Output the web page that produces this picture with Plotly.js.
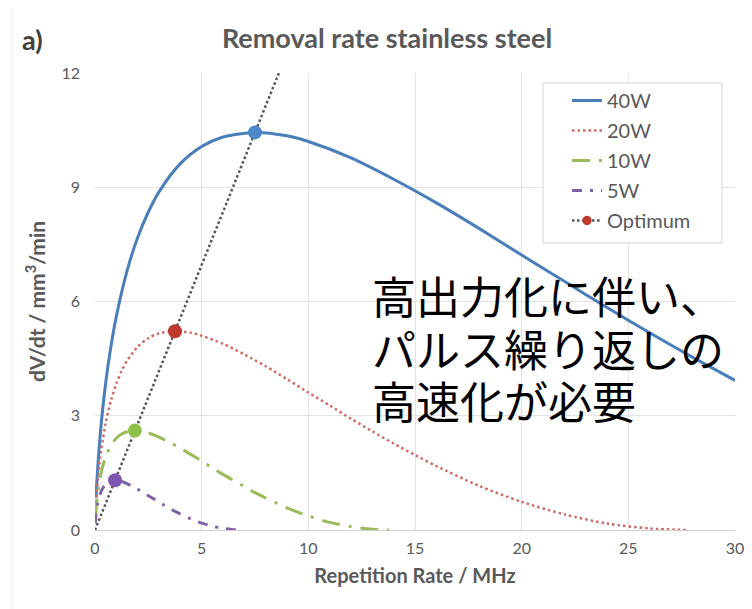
<!DOCTYPE html>
<html>
<head>
<meta charset="utf-8">
<script src="https://cdn.plot.ly/plotly-3.0.1.min.js"></script>
<style>
  html, body { margin: 0; padding: 0; background: #ffffff; }
  #chart { width: 752px; height: 609px; }
</style>
</head>
<body>
<div id="chart"></div>
<script>
// ---- data ----
const seriesNames = ['40W', '20W', '10W', '5W'];

const f40 = [0.05, 0.1, 0.25, 0.5, 0.75, 1, 1.5, 2, 2.5, 3, 4, 5, 6, 7.5, 9, 10, 12, 14, 16, 18, 20, 22, 24, 26, 28, 30];
const v40 = [0.85, 1.39, 2.54, 3.86, 4.83, 5.61, 6.80, 7.68, 8.35, 8.88, 9.62, 10.07, 10.32, 10.44, 10.35, 10.20, 9.77, 9.21, 8.59, 7.92, 7.22, 6.53, 5.84, 5.18, 4.54, 3.93];

const f20 = [0.025, 0.05, 0.125, 0.25, 0.5, 0.75, 1, 1.25, 1.5, 2, 2.5, 3, 3.75, 4.5, 5, 6, 7, 8, 9, 10, 11, 12, 13, 14, 15, 16, 18, 20, 22, 24, 26, 27.7];
const v20 = [0.43, 0.70, 1.27, 1.93, 2.81, 3.40, 3.84, 4.18, 4.44, 4.81, 5.04, 5.16, 5.22, 5.18, 5.10, 4.89, 4.61, 4.30, 3.96, 3.61, 3.27, 2.92, 2.59, 2.27, 1.97, 1.68, 1.16, 0.74, 0.41, 0.17, 0.04, 0];

const f10 = [0.025, 0.0625, 0.125, 0.25, 0.375, 0.5, 0.75, 1, 1.25, 1.5, 1.87, 2.5, 3, 3.5, 4, 4.5, 5, 5.5, 6, 6.5, 7, 7.5, 8, 9, 10, 11, 12, 13, 13.8];
const v10 = [0.35, 0.64, 0.97, 1.40, 1.70, 1.92, 2.22, 2.41, 2.52, 2.58, 2.61, 2.55, 2.44, 2.30, 2.15, 1.98, 1.81, 1.63, 1.46, 1.30, 1.14, 0.98, 0.84, 0.58, 0.37, 0.20, 0.09, 0.02, 0];

const f5 = [0.0125, 0.03125, 0.0625, 0.125, 0.25, 0.375, 0.5, 0.625, 0.75, 0.94, 1.25, 1.5, 1.75, 2, 2.25, 2.5, 2.75, 3, 3.25, 3.5, 3.75, 4, 4.5, 5, 5.5, 6, 6.5, 6.9];
const v5 = [0.17, 0.32, 0.48, 0.70, 0.96, 1.11, 1.20, 1.26, 1.29, 1.305, 1.275, 1.22, 1.15, 1.07, 0.99, 0.90, 0.82, 0.73, 0.65, 0.57, 0.49, 0.42, 0.29, 0.18, 0.10, 0.043, 0.009, 0];

// optimum points (5W, 10W, 20W, 40W) and the optimum guide line end points
const optF = [0.94, 1.87, 3.75, 7.5];
const optV = [1.305, 2.61, 5.22, 10.44];
const optLineF = [0, 8.62];
const optLineV = [0, 12];

const xTicks = [0, 5, 10, 15, 20, 25, 30];
const yTicks = [0, 3, 6, 9, 12];

const noteLines = ['高出力化に伴い、', 'パルス繰り返しの', '高速化が必要'];

// ---- styling ----
const cBlue = '#4a7ebb', cRed = '#d06a67', cGreen = '#9bbb59', cPurple = '#7f63a8';
const mBlue = '#4b87c9', mRed = '#c0392f', mGreen = '#8fc14a', mPurple = '#7e57b0';
const grey = '#595959';
const F = 'Lato, "Open Sans", sans-serif';

const traces = [
  {x: f40, y: v40, name: seriesNames[0], legendgroup: 'a', mode: 'lines',
   line: {color: cBlue, width: 3, shape: 'spline', smoothing: 0.8}},
  {x: f20, y: v20, name: seriesNames[1], legendgroup: 'b', mode: 'lines',
   line: {color: cRed, width: 2.5, dash: '2.5px,3px', shape: 'spline', smoothing: 0.8}},
  {x: f10, y: v10, name: seriesNames[2], legendgroup: 'c', mode: 'lines',
   line: {color: cGreen, width: 3, dash: '18px,9px,3px,9px', shape: 'spline', smoothing: 0.8}},
  {x: f5, y: v5, name: seriesNames[3], legendgroup: 'd', mode: 'lines',
   line: {color: cPurple, width: 3, dash: '10px,8px,3px,8px', shape: 'spline', smoothing: 0.8}},
];

// optimum trace: guide line from origin through the optimum points; markers only on optimum points
const oX = [optLineF[0]].concat(optF, [optLineF[1]]);
const oY = [optLineV[0]].concat(optV, [optLineV[1]]);
traces.push({
  x: oX, y: oY, name: 'Optimum', legendgroup: 'e', mode: 'lines+markers',
  line: {color: '#555555', width: 2.5, dash: '2.5px,2.5px'},
  marker: {
    size: [0, 14, 14, 14, 14, 0],
    color: [mRed, mPurple, mGreen, mRed, mBlue, mRed],
    opacity: 1,
    line: {width: 0}
  }
});

const ml = 95, mr = 17, mt = 73, mb = 79;
const W = 752, H = 609;
const pw = W - ml - mr, ph = H - mt - mb;
const px = v => (v - ml) / pw;
const py = v => (H - mb - v) / ph;

const noteY = [295, 348, 400];
const annotations = [{
  xref: 'paper', yref: 'paper', x: px(20), y: py(40), xanchor: 'left', yanchor: 'middle',
  text: '<b>a)</b>', showarrow: false, font: {family: F, size: 27, color: '#404040'}
}];
noteLines.forEach((t, i) => annotations.push({
  xref: 'paper', yref: 'paper', x: px(370), y: py(noteY[i]), xanchor: 'left', yanchor: 'middle',
  text: t, showarrow: false, font: {family: '"Noto Sans CJK JP", sans-serif', size: 44, color: '#000000'}
}));

const layout = {
  width: W, height: H,
  margin: {l: ml, r: mr, t: mt, b: mb},
  paper_bgcolor: '#ffffff', plot_bgcolor: '#ffffff',
  font: {family: F, color: grey},
  title: {text: '<b>Removal rate stainless steel</b>', x: 387 / W, xanchor: 'center', y: 1 - 39 / H, yanchor: 'middle',
          font: {family: F, size: 27, color: grey}},
  xaxis: {
    range: [0, 30], tickvals: xTicks, ticktext: xTicks.map(String),
    showgrid: true, gridcolor: '#e3e3e3', gridwidth: 1,
    zeroline: false, showline: true, linecolor: '#d0d0d0', linewidth: 1,
    ticks: '', ticklabelstandoff: 4, tickfont: {family: F, size: 16, color: grey},
    title: {text: '<b>Repetition Rate / MHz</b>', font: {family: F, size: 20, color: grey}, standoff: 12}
  },
  yaxis: {
    range: [0, 12], tickvals: yTicks, ticktext: yTicks.map(String),
    showgrid: true, gridcolor: '#e3e3e3', gridwidth: 1,
    zeroline: false, showline: false,
    ticks: '', ticklabelstandoff: 14, tickfont: {family: F, size: 16, color: grey},
    title: {text: '<b>dV/dt / mm<sup>3</sup>/min</b>', font: {family: F, size: 21, color: grey}, standoff: 10}
  },
  legend: {
    x: px(567), y: py(81), xanchor: 'left', yanchor: 'top',
    bgcolor: 'rgba(0,0,0,0)', borderwidth: 0,
    traceorder: 'grouped', tracegroupgap: 1,
    font: {family: F, size: 20, color: grey}
  },
  shapes: [
    {type: 'rect', xref: 'paper', yref: 'paper', layer: 'above',
     x0: px(543), x1: px(722), y0: py(243), y1: py(83),
     line: {color: '#d4d4d4', width: 1}, fillcolor: '#ffffff'},
    {type: 'line', xref: 'paper', yref: 'paper', layer: 'below',
     x0: px(12), x1: px(12), y0: py(8), y1: py(609),
     line: {color: '#ececec', width: 1}}
  ],
  annotations: annotations,
  showlegend: true
};

Plotly.newPlot('chart', traces, layout, {displayModeBar: false, staticPlot: true});
</script>
</body>
</html>
